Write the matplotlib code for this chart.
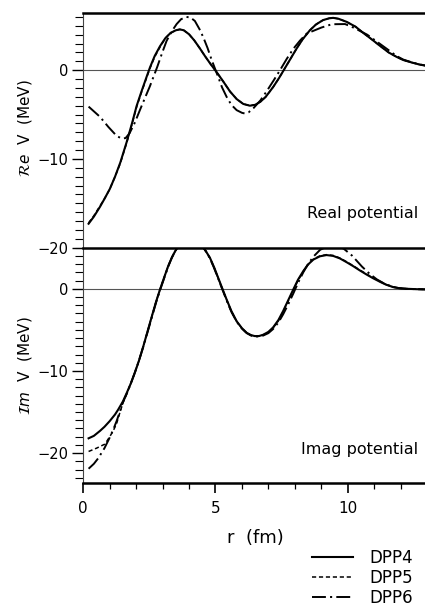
import matplotlib
matplotlib.use("Agg")
import matplotlib.pyplot as plt
from matplotlib.ticker import MultipleLocator
from matplotlib.lines import Line2D

plt.rcParams['font.family'] = ['DejaVu Sans']
plt.rcParams['mathtext.fontset'] = 'dejavusans'
plt.rcParams['lines.scale_dashes'] = False

# ---- real potential (MeV) vs r (fm) ----
r_re4 = [0.2, 0.4, 0.63, 0.8, 1.0, 1.2, 1.4, 1.64, 1.85, 2.02, 2.2, 2.4, 2.52, 2.7, 2.9,
         3.1, 3.3, 3.5, 3.65, 3.8, 4.0, 4.2, 4.4, 4.6, 4.8, 5.04, 5.3, 5.55, 5.8, 6.05,
         6.3, 6.5, 6.7, 6.9, 7.18, 7.4, 7.62, 7.85, 8.07, 8.3, 8.57, 8.8, 9.07, 9.3,
         9.45, 9.65, 9.96, 10.3, 10.59, 10.9, 11.22, 11.55, 11.85, 12.1, 12.41, 12.7, 13.0]
v_re4 = [-17.3, -16.5, -15.4, -14.5, -13.4, -12.0, -10.4, -8.1, -5.9, -4.0, -2.4, -0.7, 0.3, 1.6, 2.7,
         3.6, 4.2, 4.5, 4.6, 4.5, 4.05, 3.35, 2.5, 1.6, 0.75, -0.2, -1.3, -2.4, -3.25, -3.8,
         -4.0, -3.9, -3.55, -3.0, -1.9, -0.9, 0.2, 1.35, 2.45, 3.5, 4.5, 5.15, 5.65, 5.85,
         5.9, 5.8, 5.45, 4.9, 4.2, 3.5, 2.75, 2.0, 1.5, 1.15, 0.88, 0.65, 0.48]

r_re5 = [0.2, 0.4, 0.63, 0.8, 1.0, 1.2, 1.4, 1.64, 1.85, 2.02, 2.2, 2.4, 2.52, 2.7, 2.9,
         3.1, 3.3, 3.5, 3.65, 3.8, 4.0, 4.2, 4.4, 4.6, 4.8, 5.04, 5.3, 5.55, 5.8, 6.05,
         6.3, 6.5, 6.7, 6.9, 7.18, 7.4, 7.62, 7.85, 8.07, 8.3, 8.57, 8.8, 9.07, 9.3,
         9.45, 9.65, 9.96, 10.3, 10.59, 10.9, 11.22, 11.55, 11.85, 12.1, 12.41, 12.7, 13.0]
v_re5 = [-17.2, -16.4, -15.3, -14.5, -13.4, -12.0, -10.5, -8.2, -6.0, -4.1, -2.5, -0.8, 0.2, 1.5, 2.6,
         3.6, 4.2, 4.5, 4.6, 4.5, 4.05, 3.35, 2.5, 1.6, 0.75, -0.2, -1.3, -2.4, -3.25, -3.8,
         -4.0, -3.9, -3.55, -3.0, -1.9, -0.9, 0.2, 1.35, 2.45, 3.5, 4.5, 5.15, 5.65, 5.85,
         5.9, 5.8, 5.45, 4.9, 4.2, 3.5, 2.75, 2.0, 1.5, 1.15, 0.88, 0.65, 0.48]

r_re6 = [0.2, 0.63, 0.95, 1.26, 1.45, 1.6, 1.75, 1.95, 2.14, 2.35, 2.52, 2.8, 3.0, 3.15,
         3.35, 3.53, 3.7, 3.9, 4.05, 4.22, 4.4, 4.54, 4.7, 4.85, 5.1, 5.25, 5.42, 5.6, 5.8,
         6.0, 6.11, 6.25, 6.43, 6.7, 6.93, 7.2, 7.44, 7.7, 7.94, 8.2, 8.44, 8.63, 9.0, 9.4,
         9.9, 10.15, 10.45, 10.74, 11.09, 11.53, 11.85, 12.1, 12.41, 12.7, 13.0]
v_re6 = [-4.1, -5.25, -6.4, -7.4, -7.7, -7.65, -7.1, -5.9, -4.5, -3.0, -1.8, 0.4, 2.1, 3.3,
         4.4, 5.2, 5.75, 6.0, 5.95, 5.55, 4.6, 3.7, 2.5, 1.2, -0.75, -1.95, -3.0, -3.9, -4.5,
         -4.8, -4.88, -4.75, -4.3, -3.4, -2.4, -1.15, 0.0, 1.3, 2.4, 3.35, 4.1, 4.35, 4.8, 5.18,
         5.2, 4.9, 4.45, 4.0, 3.25, 2.3, 1.6, 1.2, 0.9, 0.66, 0.5]

# ---- imaginary potential (MeV) ----
r_im4 = [0.2, 0.4, 0.63, 0.8, 1.0, 1.2, 1.32, 1.5, 1.64, 1.8, 1.95, 2.1, 2.27, 2.42, 2.58,
         2.75, 2.9, 3.05, 3.21, 3.35, 3.47, 3.6, 3.8, 4.05, 4.3, 4.54, 4.65, 4.79, 4.95, 5.1,
         5.25, 5.42, 5.6, 5.8, 6.0, 6.18, 6.35, 6.49, 6.65, 6.8, 7.0, 7.18, 7.38, 7.56, 7.75,
         7.94, 8.12, 8.32, 8.5, 8.7, 8.95, 9.2, 9.45, 9.7, 9.95, 10.21, 10.45, 10.71, 10.95,
         11.22, 11.45, 11.72, 11.95, 12.22, 12.6, 13.0]
v_im4 = [-18.2, -17.9, -17.3, -16.8, -16.1, -15.3, -14.7, -13.7, -12.7, -11.5, -10.2, -8.8, -7.0, -5.3, -3.5,
         -1.6, -0.1, 1.3, 2.75, 3.8, 4.55, 5.2, 6.0, 6.3, 5.9, 5.0, 4.5, 3.77, 2.6, 1.35,
         0.1, -1.3, -2.7, -3.95, -4.8, -5.36, -5.65, -5.76, -5.75, -5.6, -5.25, -4.7, -3.8, -2.7, -1.4,
         -0.1, 1.1, 2.15, 2.95, 3.55, 3.95, 4.1, 4.0, 3.7, 3.25, 2.75, 2.25, 1.74, 1.3,
         0.85, 0.5, 0.2, 0.07, 0.0, -0.05, -0.08]

r_im5 = [0.2, 0.5, 0.82, 1.0, 1.13, 1.26, 1.39, 1.5, 1.64, 1.8, 1.95, 2.1, 2.27, 2.42, 2.58,
         2.75, 2.9, 3.05, 3.21, 3.35, 3.47, 3.6, 3.8, 4.05, 4.3, 4.54, 4.65, 4.79, 4.95, 5.1,
         5.25, 5.42, 5.6, 5.8, 6.0, 6.18, 6.35, 6.49, 6.65, 6.8, 7.0, 7.18, 7.38, 7.56, 7.75,
         7.94, 8.12, 8.32, 8.5, 8.7, 8.95, 9.2, 9.45, 9.7, 9.95, 10.21, 10.45, 10.71, 10.95,
         11.22, 11.45, 11.72, 11.95, 12.22, 12.6, 13.0]
v_im5 = [-19.8, -19.4, -18.9, -18.0, -17.3, -16.4, -15.0, -13.9, -12.8, -11.5, -10.2, -8.8, -7.0, -5.3, -3.5,
         -1.6, -0.1, 1.3, 2.75, 3.8, 4.55, 5.2, 6.0, 6.3, 5.9, 5.0, 4.5, 3.75, 2.55, 1.3,
         0.05, -1.35, -2.75, -3.95, -4.8, -5.38, -5.67, -5.78, -5.76, -5.62, -5.3, -4.75, -3.9, -2.8, -1.5,
         -0.2, 1.0, 2.1, 2.95, 3.6, 4.0, 4.15, 4.05, 3.75, 3.3, 2.8, 2.3, 1.8, 1.35,
         0.9, 0.52, 0.22, 0.07, 0.0, -0.05, -0.08]

r_im6 = [0.2, 0.4, 0.57, 0.8, 1.0, 1.15, 1.26, 1.39, 1.5, 1.64, 1.8, 1.95, 2.1, 2.27, 2.42,
         2.58, 2.75, 2.9, 3.05, 3.21, 3.35, 3.47, 3.6, 3.8, 4.05, 4.3, 4.54, 4.65, 4.79, 4.95,
         5.1, 5.25, 5.42, 5.6, 5.8, 6.0, 6.18, 6.35, 6.5, 6.65, 6.8, 7.0, 7.18, 7.38, 7.56,
         7.75, 7.94, 8.12, 8.32, 8.5, 8.7, 8.96, 9.2, 9.5, 9.84, 10.16, 10.54, 10.83, 11.1,
         11.4, 11.72, 11.95, 12.22, 12.6, 13.0]
v_im6 = [-21.9, -21.3, -20.6, -19.4, -18.1, -17.0, -16.1, -14.9, -13.8, -12.8, -11.5, -10.2, -8.8, -7.05, -5.4,
         -3.6, -1.7, -0.2, 1.2, 2.7, 3.8, 4.55, 5.25, 6.1, 6.4, 6.0, 5.05, 4.5, 3.7, 2.5,
         1.25, 0.0, -1.4, -2.8, -4.0, -4.85, -5.4, -5.7, -5.82, -5.8, -5.7, -5.4, -4.9, -4.1, -3.1,
         -1.9, -0.6, 0.7, 2.0, 3.0, 3.9, 4.75, 5.1, 5.2, 4.9, 4.05, 2.7, 1.82, 1.15,
         0.6, 0.22, 0.07, 0.0, -0.05, -0.08]

labels = ["DPP4", "DPP5", "DPP6"]
styles = [dict(color='black', lw=1.5, ls='-'),
          dict(color='black', lw=1.1, ls=(0, (3, 2))),
          dict(color='black', lw=1.4, ls=(0, (10, 3, 1.5, 3)))]

fig = plt.figure(figsize=(4.25, 6.09), dpi=100)
ax1 = fig.add_axes([0.196, 0.5933, 0.8087, 0.3854])
ax2 = fig.add_axes([0.196, 0.2074, 0.8087, 0.3859])
ax2.patch.set_visible(False)
ax1.set_zorder(2)
ax1.patch.set_visible(False)

ax1.plot(r_re4, v_re4, **styles[0])
ax1.plot(r_re5, v_re5, **styles[1])
ax1.plot(r_re6, v_re6, **styles[2])
ax2.plot(r_im4, v_im4, **styles[0])
ax2.plot(r_im5, v_im5, **styles[1])
ax2.plot(r_im6, v_im6, **styles[2])

ax1.set_ylim(-20, 6.45)
ax2.set_ylim(-23.6, 5)

for ax in (ax1, ax2):
    ax.set_xlim(0, 13)
    ax.axhline(0, color='#555555', lw=0.8, zorder=0)
    ax.spines['right'].set_visible(False)
    ax.spines['left'].set_linewidth(0.8)
    ax.spines['left'].set_color('#444444')
    ax.yaxis.set_major_locator(MultipleLocator(10))
    ax.yaxis.set_minor_locator(MultipleLocator(1))
    ax.tick_params(axis='y', which='major', direction='out', length=8, width=1.0,
                   labelsize=10.5, pad=3)
    ax.tick_params(axis='y', which='minor', direction='out', length=5.5, width=0.8)

ax1.spines['top'].set_linewidth(1.8)
ax1.spines['bottom'].set_linewidth(1.8)
ax2.spines['top'].set_visible(False)
ax2.spines['bottom'].set_linewidth(1.8)

ax1.tick_params(axis='x', which='both', bottom=False, labelbottom=False)
ax2.xaxis.set_major_locator(MultipleLocator(5))
ax2.xaxis.set_minor_locator(MultipleLocator(1))
ax2.tick_params(axis='x', which='major', direction='out', length=7.5, width=1.2,
                labelsize=11, pad=6)
ax2.tick_params(axis='x', which='minor', direction='out', length=4, width=0.9)

ax1.set_ylabel(r"$\mathcal{R}\mathit{e}$  V  (MeV)", fontsize=11)
ax2.set_ylabel(r"$\mathcal{I}\mathit{m}$  V  (MeV)", fontsize=11)
ax1.yaxis.set_label_coords(-0.142, 0.51)
ax2.yaxis.set_label_coords(-0.142, 0.5)

ax2.set_xlabel("r  (fm)", fontsize=13)
ax2.xaxis.set_label_coords(0.5, -0.195)

ax1.text(0.974, 0.127, "Real potential", transform=ax1.transAxes,
         ha='right', va='baseline', fontsize=11.5)
ax2.text(0.974, 0.124, "Imag potential", transform=ax2.transAxes,
         ha='right', va='baseline', fontsize=11.5)

handles = [Line2D([], [], **s) for s in styles]
fig.legend(handles, labels, loc='upper left', bbox_to_anchor=(0.734, 0.098),
           frameon=False, fontsize=12, handlelength=2.46, handletextpad=1.0,
           labelspacing=0.1, borderpad=0, borderaxespad=0)

fig.savefig("out.png", dpi=100)
